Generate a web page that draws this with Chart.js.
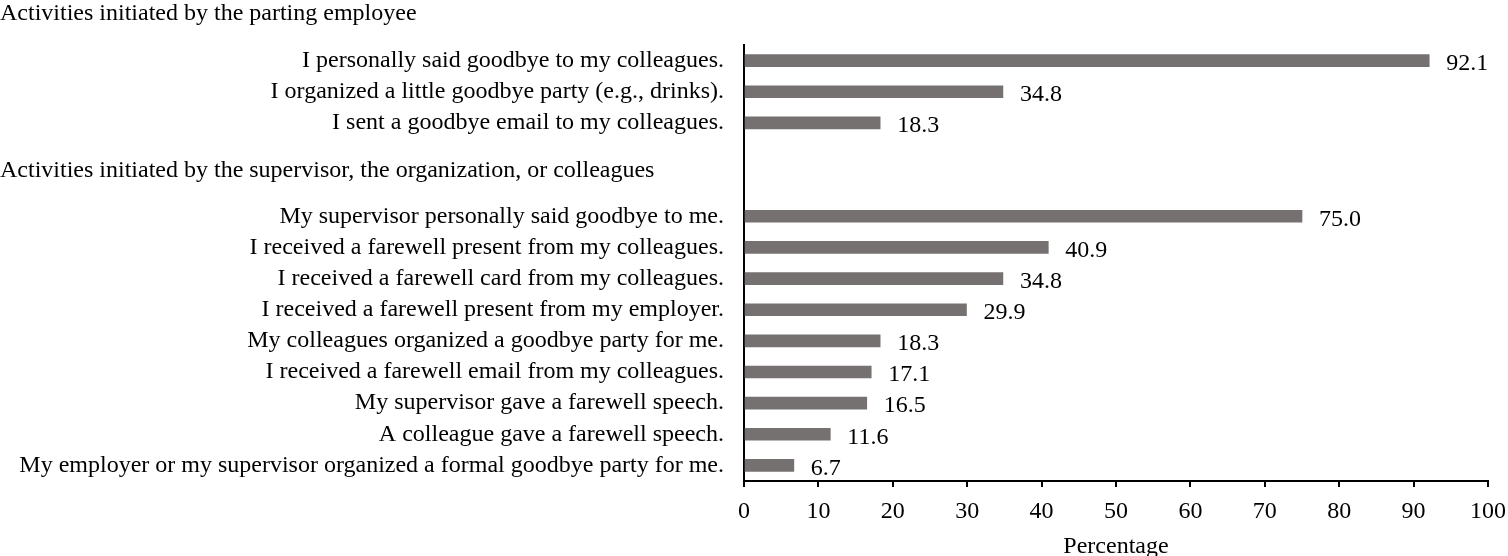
<!DOCTYPE html>
<html>
<head>
<meta charset="utf-8">
<script src="https://cdn.jsdelivr.net/npm/chart.js@4/dist/chart.umd.min.js"></script>
<style>
  html, body { margin: 0; padding: 0; background: #fff; }
  #wrap { width: 1508px; height: 556px; }
</style>
</head>
<body>
<div id="wrap"><canvas id="chart"></canvas></div>
<script>
// Data (blank rows hold the gap between the two groups)
const labels = [
  'I personally said goodbye to my colleagues.',
  'I organized a little goodbye party (e.g., drinks).',
  'I sent a goodbye email to my colleagues.',
  '',
  '',
  'My supervisor personally said goodbye to me.',
  'I received a farewell present from my colleagues.',
  'I received a farewell card from my colleagues.',
  'I received a farewell present from my employer.',
  'My colleagues organized a goodbye party for me.',
  'I received a farewell email from my colleagues.',
  'My supervisor gave a farewell speech.',
  'A colleague gave a farewell speech.',
  'My employer or my supervisor organized a formal goodbye party for me.'
];
const percentages = [92.1, 34.8, 18.3, null, null, 75.0, 40.9, 34.8, 29.9, 18.3, 17.1, 16.5, 11.6, 6.7];
const xTicks = [0, 10, 20, 30, 40, 50, 60, 70, 80, 90, 100];
const groupHeaders = [
  { text: 'Activities initiated by the parting employee', row: -1.55 },
  { text: 'Activities initiated by the supervisor, the organization, or colleagues', row: 3.5 }
];

const FONT = "'Liberation Serif', 'Times New Roman', serif";

// value labels + group headers
const annotate = {
  id: 'annotate',
  afterDatasetsDraw(chart) {
    const ctx = chart.ctx;
    const meta = chart.getDatasetMeta(0);
    const yScale = chart.scales.y;
    ctx.save();
    ctx.fillStyle = '#000';
    ctx.font = '24px ' + FONT;
    ctx.textBaseline = 'middle';
    ctx.textAlign = 'left';
    meta.data.forEach((bar, i) => {
      const v = percentages[i];
      if (v == null) return;
      ctx.fillText(v.toFixed(1), bar.x + 17, bar.y + 3);
    });
    groupHeaders.forEach(h => {
      ctx.fillText(h.text, 0, yScale.getPixelForValue(h.row) + 1);
    });
    ctx.restore();
  }
};

new Chart(document.getElementById('chart'), {
  type: 'bar',
  data: {
    labels: labels,
    datasets: [{
      data: percentages,
      backgroundColor: '#767171',
      barThickness: 12
    }]
  },
  options: {
    indexAxis: 'y',
    responsive: true,
    maintainAspectRatio: false,
    animation: false,
    layout: { padding: { top: 45, right: 20, bottom: 0, left: 0 } },
    plugins: { legend: { display: false }, tooltip: { enabled: false } },
    scales: {
      x: {
        min: 0, max: 100,
        afterBuildTicks(scale) { scale.ticks = xTicks.map(v => ({ value: v })); },
        afterFit(scale) { scale.height = 75; scale.paddingLeft = 0; scale.paddingRight = 0; },
        grid: { drawOnChartArea: false, drawTicks: true, tickLength: 6, color: '#000', lineWidth: 2 },
        border: { color: '#000', width: 2 },
        ticks: { color: '#000', font: { family: FONT, size: 24 }, padding: 10, maxRotation: 0 },
        title: { display: true, text: 'Percentage', color: '#000', font: { family: FONT, size: 24, lineHeight: 1 }, padding: { top: 8, bottom: -3 } }
      },
      y: {
        afterFit(scale) { scale.width = 744; scale.paddingTop = 0; scale.paddingBottom = 0; },
        grid: { display: false, drawTicks: false },
        border: { color: '#000', width: 2 },
        ticks: { color: '#000', font: { family: FONT, size: 24 }, padding: 20, autoSkip: false }
      }
    }
  },
  plugins: [annotate]
});
</script>
</body>
</html>
